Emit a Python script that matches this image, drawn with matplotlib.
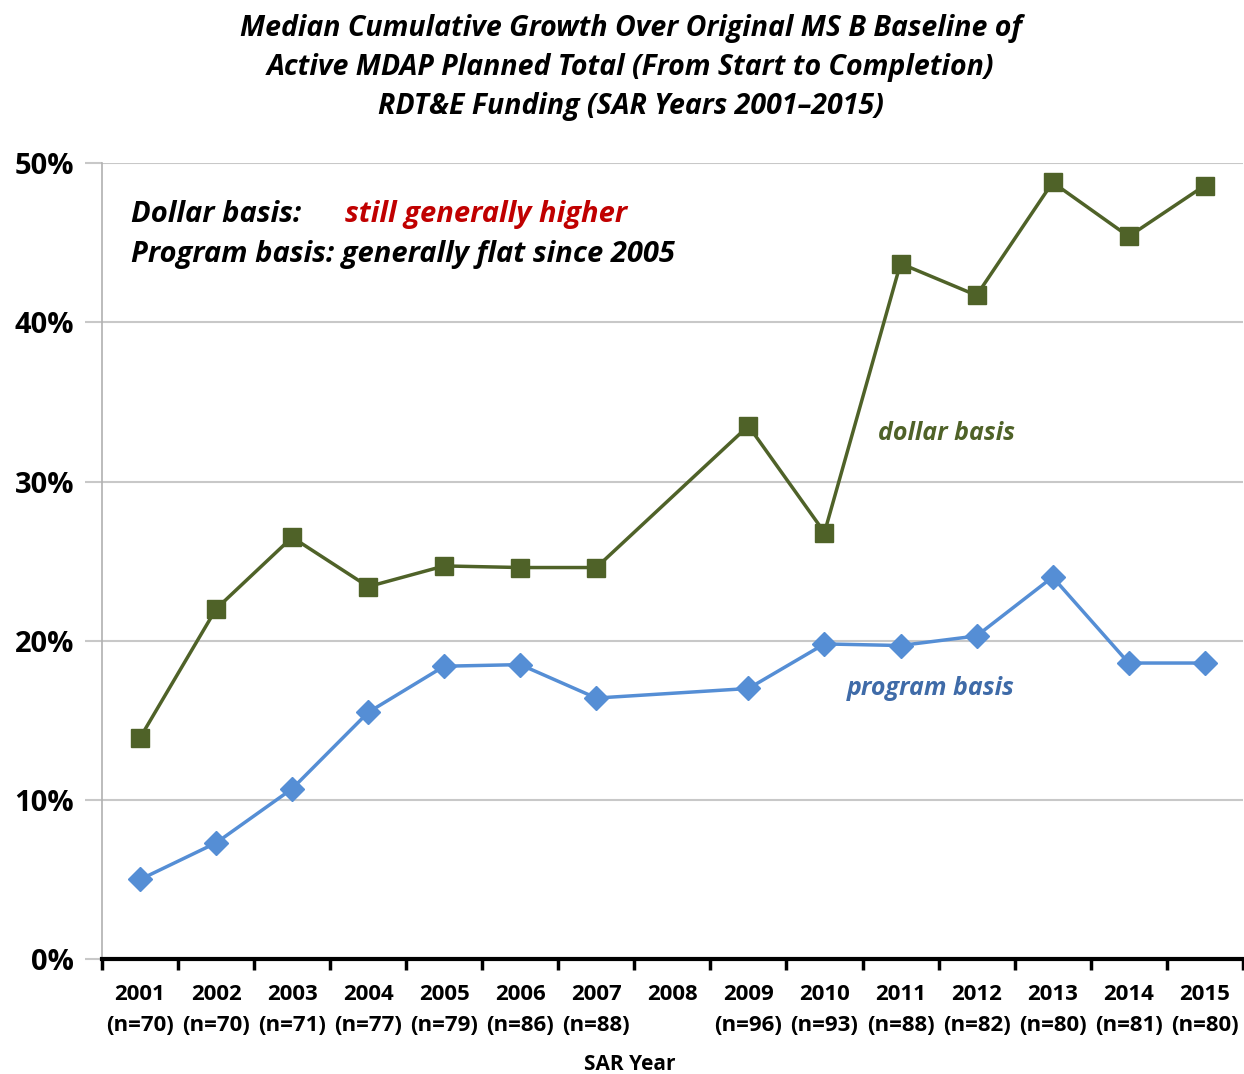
import matplotlib
matplotlib.use('Agg')
import matplotlib.pyplot as plt
import numpy as np

plt.rcParams['font.family'] = ['Open Sans', 'DejaVu Sans']

years = ['2001', '2002', '2003', '2004', '2005', '2006', '2007', '2008',
         '2009', '2010', '2011', '2012', '2013', '2014', '2015']
counts = ['(n=70)', '(n=70)', '(n=71)', '(n=77)', '(n=79)', '(n=86)', '(n=88)', '',
          '(n=96)', '(n=93)', '(n=88)', '(n=82)', '(n=80)', '(n=81)', '(n=80)']
# no data for 2008
dollar_basis = [13.9, 22.0, 26.5, 23.4, 24.7, 24.6, 24.6, None,
                33.5, 26.8, 43.7, 41.7, 48.8, 45.4, 48.6]
program_basis = [5.0, 7.3, 10.7, 15.5, 18.4, 18.5, 16.4, None,
                 17.0, 19.8, 19.7, 20.3, 24.0, 18.6, 18.6]
yticks = [0, 10, 20, 30, 40, 50]

green = '#4f6228'
blue = '#558ed5'

fig = plt.figure(figsize=(12.44, 10.74), dpi=100)
ax = fig.add_axes([0.082, 0.107, 0.917, 0.741])

x = np.arange(1, len(years) + 1)
d = np.array([np.nan if v is None else v for v in dollar_basis])
p = np.array([np.nan if v is None else v for v in program_basis])
ok = ~np.isnan(d)
ax.plot(x[ok], d[ok], color=green, lw=2.5, marker='s', ms=13, zorder=3)
ok = ~np.isnan(p)
ax.plot(x[ok], p[ok], color=blue, lw=2.5, marker='D', ms=12, zorder=3)

ax.set_xlim(0.5, len(years) + 0.5)
ax.set_ylim(0, 50)
ax.set_yticks(yticks)
ax.set_yticklabels(['%d%%' % v for v in yticks], fontsize=21, fontweight='bold')
ax.yaxis.grid(True, color='#c8c8c8', lw=1.5)
ax.tick_params(axis='y', length=12, color='#c8c8c8', width=1.5, pad=8)
ax.set_axisbelow(True)

ax.set_xticks(np.arange(0.5, len(years) + 1))
ax.set_xticklabels([])
ax.set_xticks(x, minor=True)
ax.set_xticklabels([y + '\n' + c for y, c in zip(years, counts)], minor=True,
                   fontsize=16, fontweight='bold', linespacing=1.6)
ax.tick_params(axis='x', which='major', length=8, width=2.5, color='black')
ax.tick_params(axis='x', which='minor', length=0, pad=18)

for s in ['top', 'right']:
    ax.spines[s].set_visible(False)
ax.spines['left'].set_color('#b0b0b0')
ax.spines['left'].set_linewidth(1.2)
ax.spines['bottom'].set_linewidth(3)

ax.set_xlabel('SAR Year', fontsize=15, fontweight='bold')
ax.xaxis.set_label_coords(0.463, -0.119)

fig.suptitle('Median Cumulative Growth Over Original MS B Baseline of\n'
             'Active MDAP Planned Total (From Start to Completion)\n'
             'RDT&E Funding (SAR Years 2001\u20132015)',
             x=0.507, y=0.987, fontsize=20.5, fontweight='bold', style='italic',
             linespacing=1.45)

ax.text(0.025, 0.935, 'Dollar basis:', transform=ax.transAxes, fontsize=21,
        fontweight='bold', style='italic', va='center')
ax.text(0.213, 0.935, 'still generally higher', transform=ax.transAxes, fontsize=21,
        fontweight='bold', style='italic', color='#c00000', va='center')
ax.text(0.025, 0.885, 'Program basis: generally flat since 2005', transform=ax.transAxes,
        fontsize=21, fontweight='bold', style='italic', va='center')

ax.text(11.6, 33.0, 'dollar basis', fontsize=18, fontweight='bold', style='italic',
        color=green, ha='center', va='center')
ax.text(11.4, 17.0, 'program basis', fontsize=18, fontweight='bold', style='italic',
        color='#3f6ba8', ha='center', va='center')

fig.savefig('out.png', dpi=100)
